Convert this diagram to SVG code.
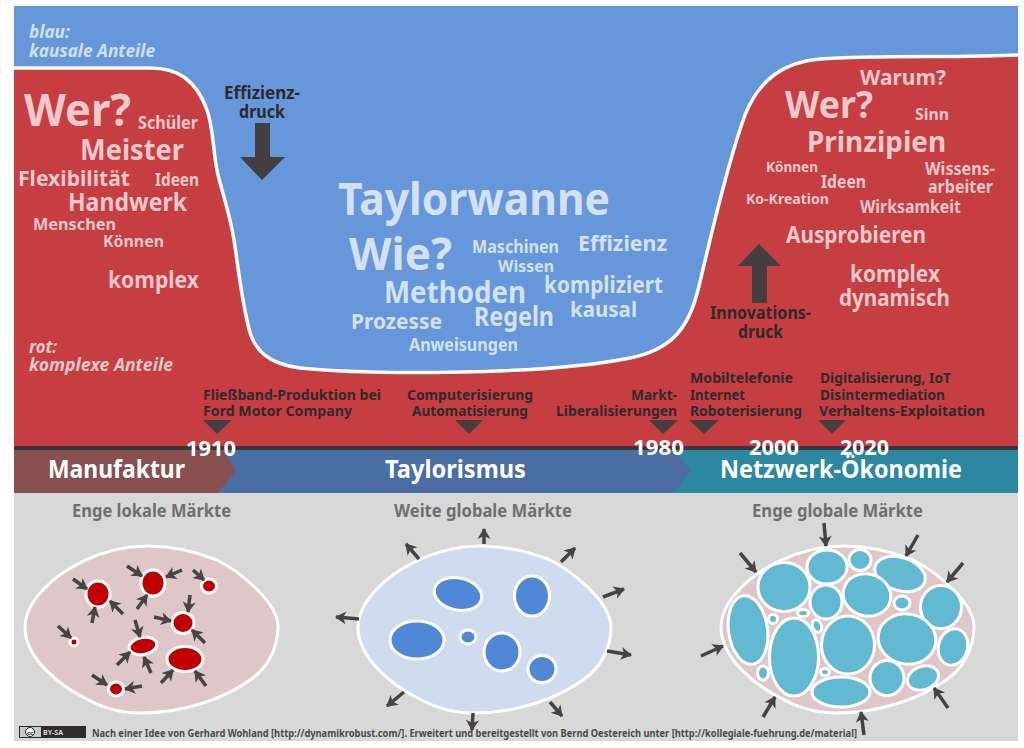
<svg xmlns="http://www.w3.org/2000/svg" width="1024" height="748" viewBox="0 0 1024 748">
<style>
text{font-family:"Noto Sans","Open Sans","Liberation Sans",sans-serif;font-weight:700}
.p{fill:#efc8ca}.b{fill:#d3e1f4}.i{font-style:italic;font-size:17px}.ib{fill:#cfe0f3}
.d{fill:#2f2a2c}.e{font-size:14px;fill:#2f2a2c}
.w{fill:#fff}.y{font-size:22px;fill:#fff}.h{font-size:25px;fill:#fff}.g{font-size:17px;fill:#6f6f6f}
.egg{stroke:#fff;stroke-width:3}
.blob{stroke:#fff;stroke-width:3}
.r{fill:#c00000}.l{fill:#5188d6}.c{fill:#62bad2}
.a{stroke:#444;stroke-width:3.5;fill:none;marker-end:url(#ah)}
.tri{fill:#433f41}
</style>
<defs>
<marker id="ah" markerUnits="userSpaceOnUse" markerWidth="15" markerHeight="15" refX="11" refY="7" orient="auto"><path d="M1,0.5 L12,7 L1,13.5 L4,7Z" fill="#444"/></marker>
<path id="eggp" d="M0,81 C0,68 8,54 18,44 C35,25 75,0 122,0 C150,0 172,6 192,14 C212,24 253,55 253,81 C253,105 240,124 225,134 C200,152 160,167 115,167 C90,167 70,158 58,151 C40,142 0,115 0,81Z"/>
</defs>
<rect width="1024" height="748" fill="#fff"/>
<g id="top">
<rect x="14" y="6" width="1004" height="442" fill="#6697db"/>
<path d="M14,68 L150,68 C178,68 196,80 207,110 C214,130 213,155 218,175 C223,195 230,215 234,240 C238,265 240,290 248,325 C253,350 268,364 300,368 C350,373 410,373 460,372 C520,371 580,368 630,358 C670,350 688,330 698,290 C708,250 725,170 745,115 C760,78 785,62 820,59 C880,55 960,58 1018,55 L1018,448 L14,448Z" fill="#c63e41" stroke="none"/>
<path d="M14,68 L150,68 C178,68 196,80 207,110 C214,130 213,155 218,175 C223,195 230,215 234,240 C238,265 240,290 248,325 C253,350 268,364 300,368 C350,373 410,373 460,372 C520,371 580,368 630,358 C670,350 688,330 698,290 C708,250 725,170 745,115 C760,78 785,62 820,59 C880,55 960,58 1018,55" fill="none" stroke="#fff" stroke-width="3.5"/>
<rect x="14" y="446" width="1004" height="4" fill="#3a3638"/>
</g>
<g id="legend">
<text class="i ib" x="29" y="38" textLength="41" lengthAdjust="spacingAndGlyphs">blau:</text>
<text class="i ib" x="29" y="57" textLength="126" lengthAdjust="spacingAndGlyphs">kausale Anteile</text>
<text class="i p" x="29" y="353" textLength="28" lengthAdjust="spacingAndGlyphs">rot:</text>
<text class="i p" x="29" y="371" textLength="144" lengthAdjust="spacingAndGlyphs">komplexe Anteile</text>
</g>
<g id="words-left" class="p">
<text x="24" y="126" font-size="45" textLength="107" lengthAdjust="spacingAndGlyphs">Wer?</text>
<text x="138" y="129" font-size="17" textLength="60" lengthAdjust="spacingAndGlyphs">Schüler</text>
<text x="80" y="160" font-size="29" textLength="104" lengthAdjust="spacingAndGlyphs">Meister</text>
<text x="18" y="186" font-size="22" textLength="112" lengthAdjust="spacingAndGlyphs">Flexibilität</text>
<text x="155" y="186" font-size="17" textLength="44" lengthAdjust="spacingAndGlyphs">Ideen</text>
<text x="68" y="211" font-size="25" textLength="119" lengthAdjust="spacingAndGlyphs">Handwerk</text>
<text x="33" y="230" font-size="16" textLength="83" lengthAdjust="spacingAndGlyphs">Menschen</text>
<text x="103" y="247" font-size="16" textLength="61" lengthAdjust="spacingAndGlyphs">Können</text>
<text x="108" y="288" font-size="23" textLength="91" lengthAdjust="spacingAndGlyphs">komplex</text>
</g>
<g id="words-center" class="b">
<text x="338" y="215" font-size="44" textLength="272" lengthAdjust="spacingAndGlyphs">Taylorwanne</text>
<text x="349" y="270" font-size="44" textLength="103" lengthAdjust="spacingAndGlyphs">Wie?</text>
<text x="472" y="253" font-size="17" textLength="87" lengthAdjust="spacingAndGlyphs">Maschinen</text>
<text x="498" y="272" font-size="16" textLength="56" lengthAdjust="spacingAndGlyphs">Wissen</text>
<text x="578" y="251" font-size="21" textLength="89" lengthAdjust="spacingAndGlyphs">Effizienz</text>
<text x="384" y="303" font-size="30" textLength="142" lengthAdjust="spacingAndGlyphs">Methoden</text>
<text x="544" y="293" font-size="23" textLength="119" lengthAdjust="spacingAndGlyphs">kompliziert</text>
<text x="351" y="329" font-size="22" textLength="91" lengthAdjust="spacingAndGlyphs">Prozesse</text>
<text x="474" y="326" font-size="26" textLength="80" lengthAdjust="spacingAndGlyphs">Regeln</text>
<text x="570" y="317" font-size="22" textLength="67" lengthAdjust="spacingAndGlyphs">kausal</text>
<text x="409" y="351" font-size="17" textLength="109" lengthAdjust="spacingAndGlyphs">Anweisungen</text>
</g>
<g id="words-right" class="p">
<text x="860" y="85" font-size="22" textLength="86" lengthAdjust="spacingAndGlyphs">Warum?</text>
<text x="785" y="118" font-size="38" textLength="88" lengthAdjust="spacingAndGlyphs">Wer?</text>
<text x="915" y="120" font-size="16" textLength="34" lengthAdjust="spacingAndGlyphs">Sinn</text>
<text x="807" y="152" font-size="29" textLength="139" lengthAdjust="spacingAndGlyphs">Prinzipien</text>
<text x="766" y="172" font-size="14" textLength="52" lengthAdjust="spacingAndGlyphs">Können</text>
<text x="821" y="188" font-size="17" textLength="45" lengthAdjust="spacingAndGlyphs">Ideen</text>
<text x="925" y="175" font-size="17" textLength="70" lengthAdjust="spacingAndGlyphs">Wissens-</text>
<text x="928" y="193" font-size="17" textLength="65" lengthAdjust="spacingAndGlyphs">arbeiter</text>
<text x="746" y="204" font-size="14" textLength="83" lengthAdjust="spacingAndGlyphs">Ko-Kreation</text>
<text x="860" y="213" font-size="17" textLength="101" lengthAdjust="spacingAndGlyphs">Wirksamkeit</text>
<text x="786" y="243" font-size="24" textLength="140" lengthAdjust="spacingAndGlyphs">Ausprobieren</text>
<text x="850" y="282" font-size="23" textLength="90" lengthAdjust="spacingAndGlyphs">komplex</text>
<text x="839" y="306" font-size="23" textLength="111" lengthAdjust="spacingAndGlyphs">dynamisch</text>
</g>
<g id="effizienzdruck">
<text class="d" x="224" y="99" font-size="17" textLength="76" lengthAdjust="spacingAndGlyphs">Effizienz-</text>
<text class="d" x="239" y="118" font-size="17" textLength="46" lengthAdjust="spacingAndGlyphs">druck</text>
<path class="tri" d="M255,123 H270 V157 H285 L262,180 L240,157 H255Z"/>
</g>
<g id="innovationsdruck">
<path class="tri" d="M759,244 L781,266 H767 V303 H752 V266 H738Z"/>
<text class="d" x="710" y="319" font-size="17" textLength="101" lengthAdjust="spacingAndGlyphs">Innovations-</text>
<text class="d" x="738" y="338" font-size="17" textLength="45" lengthAdjust="spacingAndGlyphs">druck</text>
</g>
<g id="event-1910">
<text class="e" x="203" y="400" textLength="178" lengthAdjust="spacingAndGlyphs">Fließband-Produktion bei</text>
<text class="e" x="203" y="416" textLength="149" lengthAdjust="spacingAndGlyphs">Ford Motor Company</text>
<path class="tri" d="M203,420 H232 L217,434Z"/>
</g>
<g id="event-computer">
<text class="e" x="407" y="400" textLength="126" lengthAdjust="spacingAndGlyphs">Computerisierung</text>
<text class="e" x="412" y="416" textLength="116" lengthAdjust="spacingAndGlyphs">Automatisierung</text>
<path class="tri" d="M455,420 H483 L469,434Z"/>
</g>
<g id="event-markt">
<text class="e" x="631" y="400" textLength="46" lengthAdjust="spacingAndGlyphs">Markt-</text>
<text class="e" x="556" y="416" textLength="121" lengthAdjust="spacingAndGlyphs">Liberalisierungen</text>
<path class="tri" d="M649,420 H678 L663,434Z"/>
</g>
<g id="event-mobil">
<text class="e" x="690" y="383" textLength="103" lengthAdjust="spacingAndGlyphs">Mobiltelefonie</text>
<text class="e" x="690" y="400" textLength="55" lengthAdjust="spacingAndGlyphs">Internet</text>
<text class="e" x="690" y="416" textLength="112" lengthAdjust="spacingAndGlyphs">Roboterisierung</text>
<path class="tri" d="M689,420 H719 L704,434Z"/>
</g>
<g id="event-digital">
<text class="e" x="820" y="383" textLength="131" lengthAdjust="spacingAndGlyphs">Digitalisierung, IoT</text>
<text class="e" x="820" y="400" textLength="125" lengthAdjust="spacingAndGlyphs">Disintermediation</text>
<text class="e" x="819" y="416" textLength="166" lengthAdjust="spacingAndGlyphs">Verhaltens-Exploitation</text>
<path class="tri" d="M818,420 H846 L832,434Z"/>
</g>
<g id="bands">
<rect x="14" y="493" width="1004" height="248" fill="#d8d8d8"/>
<rect x="14" y="450" width="1004" height="43" fill="#2e87a0"/>
<path d="M218,450 H674 L691,470 L674,493 H218Z" fill="#4a6da3"/>
<path d="M14,450 H222 L236,470 L218,493 H14Z" fill="#87504f"/>
<text class="h" x="48" y="478" textLength="137" lengthAdjust="spacingAndGlyphs">Manufaktur</text>
<text class="h" x="385" y="478" textLength="141" lengthAdjust="spacingAndGlyphs">Taylorismus</text>
<text class="h" x="720" y="478" textLength="242" lengthAdjust="spacingAndGlyphs">Netzwerk-Ökonomie</text>
</g>
<g id="years">
<text class="y" x="186" y="456" textLength="50" lengthAdjust="spacingAndGlyphs">1910</text>
<text class="y" x="633" y="455" textLength="51" lengthAdjust="spacingAndGlyphs">1980</text>
<text class="y" x="749" y="455" textLength="50" lengthAdjust="spacingAndGlyphs">2000</text>
<text class="y" x="840" y="455" textLength="49" lengthAdjust="spacingAndGlyphs">2020</text>
</g>
<g id="market-local">
<text class="g" x="72" y="517" textLength="159" lengthAdjust="spacingAndGlyphs">Enge lokale Märkte</text>
<use href="#eggp" x="25" y="546" class="egg" fill="#dfc7c9"/>
<g class="r">
<ellipse class="blob" cx="98" cy="594" rx="12" ry="13"/>
<ellipse class="blob" cx="153" cy="583" rx="12" ry="13"/>
<ellipse class="blob" cx="209" cy="586" rx="7.5" ry="7"/>
<ellipse class="blob" cx="183" cy="623" rx="11" ry="10.5"/>
<ellipse class="blob" cx="74" cy="642" rx="4" ry="4"/>
<ellipse class="blob" cx="143" cy="646" rx="14" ry="8.5" transform="rotate(-10 143 646)"/>
<ellipse class="blob" cx="185" cy="659" rx="18" ry="12.5"/>
<ellipse class="blob" cx="116" cy="689" rx="7.5" ry="7"/>
</g>
</g>
<g id="market-wide">
<text class="g" x="394" y="517" textLength="178" lengthAdjust="spacingAndGlyphs">Weite globale Märkte</text>
<use href="#eggp" x="358" y="546" class="egg" fill="#cfdcef"/>
<g class="l">
<ellipse class="blob" cx="458" cy="594" rx="24" ry="16" transform="rotate(12 458 594)"/>
<ellipse class="blob" cx="532" cy="596" rx="17.5" ry="20"/>
<ellipse class="blob" cx="417" cy="640" rx="27" ry="19"/>
<ellipse class="blob" cx="468" cy="637" rx="8" ry="7"/>
<ellipse class="blob" cx="502" cy="652" rx="18" ry="19"/>
<ellipse class="blob" cx="542" cy="669" rx="14" ry="13.5"/>
</g>
</g>
<g id="market-global">
<text class="g" x="752" y="517" textLength="171" lengthAdjust="spacingAndGlyphs">Enge globale Märkte</text>
<use href="#eggp" x="721" y="546" class="egg" fill="#dfc7c9"/>
<g class="c">
<ellipse class="blob" cx="827" cy="567" rx="20" ry="17"/>
<ellipse class="blob" cx="860" cy="560" rx="11" ry="10.5"/>
<ellipse class="blob" cx="900" cy="574" rx="26" ry="16.5" transform="rotate(18 900 574)"/>
<ellipse class="blob" cx="784" cy="587" rx="26" ry="24.5"/>
<ellipse class="blob" cx="867" cy="595" rx="24" ry="21" transform="rotate(15 867 595)"/>
<ellipse class="blob" cx="826" cy="602" rx="16" ry="17"/>
<ellipse class="blob" cx="902" cy="603" rx="8" ry="7"/>
<ellipse class="blob" cx="941" cy="607" rx="20.5" ry="21.5"/>
<ellipse class="blob" cx="748" cy="630" rx="19.5" ry="34.5" transform="rotate(-8 748 630)"/>
<ellipse class="blob" cx="773" cy="619" rx="4.5" ry="4.5"/>
<ellipse class="blob" cx="803" cy="613" rx="5.5" ry="3.5"/>
<ellipse class="blob" cx="817" cy="626" rx="4.5" ry="6.5" transform="rotate(-20 817 626)"/>
<ellipse class="blob" cx="794" cy="657" rx="24.5" ry="39"/>
<ellipse class="blob" cx="848" cy="645" rx="26.5" ry="29"/>
<ellipse class="blob" cx="907" cy="639" rx="29" ry="25" transform="rotate(10 907 639)"/>
<ellipse class="blob" cx="953" cy="647" rx="14.5" ry="18.5" transform="rotate(15 953 647)"/>
<ellipse class="blob" cx="763" cy="673" rx="5.5" ry="7"/>
<ellipse class="blob" cx="825" cy="672" rx="4.5" ry="3.5"/>
<ellipse class="blob" cx="887" cy="678" rx="17" ry="17.5"/>
<ellipse class="blob" cx="923" cy="678" rx="16" ry="11.5" transform="rotate(-20 923 678)"/>
<ellipse class="blob" cx="841" cy="692" rx="29" ry="15"/>
</g>
</g>
<g id="connectors">
<path class="a" d="M73,579 L87,589"/><path class="a" d="M127,566 L142,576"/><path class="a" d="M182,570 L166,577"/><path class="a" d="M193,570 L204,580"/><path class="a" d="M123,614 L110,601"/><path class="a" d="M92,623 L95,607"/><path class="a" d="M137,609 L147,595"/><path class="a" d="M190,595 L188,612"/><path class="a" d="M154,617 L171,621"/><path class="a" d="M205,643 L192,630"/><path class="a" d="M135,620 L140,637"/><path class="a" d="M117,665 L130,652"/><path class="a" d="M151,673 L144,657"/><path class="a" d="M58,626 L71,638"/><path class="a" d="M161,683 L173,670"/><path class="a" d="M206,686 L195,671"/><path class="a" d="M92,675 L107,685"/><path class="a" d="M142,686 L125,689"/>
<path class="a" d="M419,559 L406,544"/><path class="a" d="M484,544 L484,529"/><path class="a" d="M561,562 L575,548"/><path class="a" d="M603,597 L624,589"/><path class="a" d="M359,619 L336,617"/><path class="a" d="M607,651 L631,655"/><path class="a" d="M404,692 L387,706"/><path class="a" d="M550,702 L562,716"/><path class="a" d="M473,713 L472,730"/>
<path class="a" d="M824,523 L826,546"/><path class="a" d="M918,535 L906,556"/><path class="a" d="M963,563 L947,582"/><path class="a" d="M740,553 L756,572"/><path class="a" d="M701,656 L723,646"/><path class="a" d="M763,717 L775,697"/><path class="a" d="M864,735 L861,712"/><path class="a" d="M948,708 L934,688"/>
</g>
<g id="credit">
<rect x="19" y="726" width="67" height="12" fill="#2f2a2c"/>
<rect x="20" y="727" width="21" height="10" fill="#c9c9c9"/>
<circle cx="30" cy="732" r="4.5" fill="#fff" stroke="#222"/>
<text x="30" y="734.5" font-size="6" text-anchor="middle" fill="#222">cc</text>
<text x="43" y="735" font-size="7.5" fill="#ddd" textLength="20" lengthAdjust="spacingAndGlyphs">BY-SA</text>
<text x="92" y="737" font-size="11" fill="#4a4a4a" textLength="765" lengthAdjust="spacingAndGlyphs">Nach einer Idee von Gerhard Wohland [http://dynamikrobust.com/]. Erweitert und bereitgestellt von Bernd Oestereich unter [http://kollegiale-fuehrung.de/material]</text>
</g>
</svg>
